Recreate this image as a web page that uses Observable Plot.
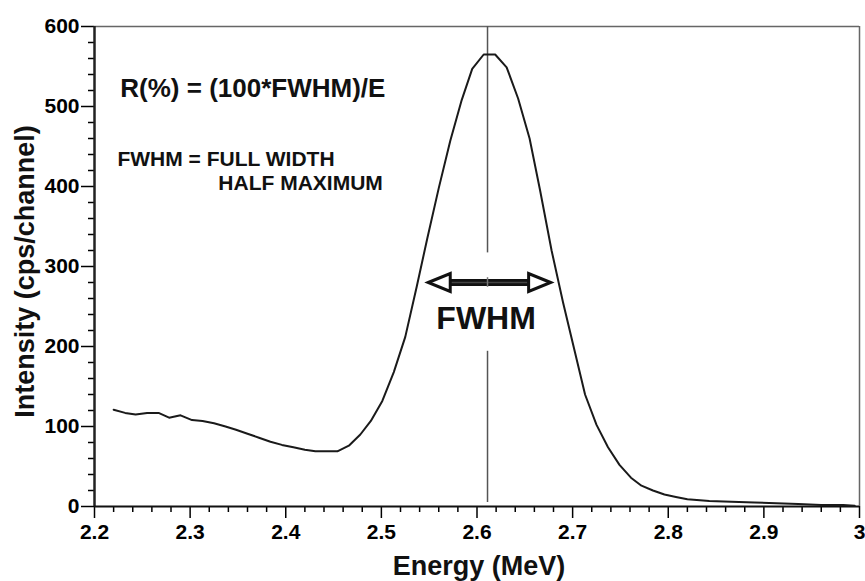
<!DOCTYPE html>
<html>
<head>
<meta charset="utf-8">
<script src="https://cdn.jsdelivr.net/npm/d3@7"></script>
<script src="https://cdn.jsdelivr.net/npm/@observablehq/plot@0.6"></script>
<style>
  html, body { margin: 0; padding: 0; background: #fff; }
  svg { display: block; }
</style>
</head>
<body>
<div id="chart"></div>
<script>
// ---- data ----
const energy = [2.220, 2.232, 2.243, 2.255, 2.267, 2.278, 2.290, 2.302, 2.313, 2.325,
  2.337, 2.348, 2.360, 2.372, 2.384, 2.396, 2.408, 2.420, 2.431, 2.443,
  2.454, 2.466, 2.478, 2.489, 2.501, 2.513, 2.525, 2.537, 2.548, 2.560,
  2.572, 2.584, 2.595, 2.607, 2.619, 2.631, 2.643, 2.655, 2.666, 2.678,
  2.690, 2.702, 2.713, 2.725, 2.737, 2.749, 2.761, 2.772, 2.784, 2.796,
  2.808, 2.820, 2.843, 2.866, 2.890, 2.913, 2.936, 2.960, 2.983, 2.995];
const intensity = [121, 117, 115, 117, 117, 111, 114, 108, 107, 104,
  100, 96, 91, 86, 81, 77, 74, 71, 69, 69,
  69, 76, 90, 107, 132, 168, 212, 275, 335, 398,
  457, 508, 547, 565, 565, 549, 510, 460, 395, 320,
  255, 195, 140, 102, 74, 52, 36, 26, 20, 15,
  12, 9, 7, 6, 5, 4, 3, 2, 2, 1];

const xTicks = [2.2, 2.3, 2.4, 2.5, 2.6, 2.7, 2.8, 2.9, 3.0];
const xTickLabels = ["2.2", "2.3", "2.4", "2.5", "2.6", "2.7", "2.8", "2.9", "3"];
const yTicks = [0, 100, 200, 300, 400, 500, 600];
const yTickLabels = ["0", "100", "200", "300", "400", "500", "600"];

const peakEnergy = 2.611;      // centroid marker line
const fwhmLeft = 2.549;        // half-maximum crossing, left
const fwhmRight = 2.677;       // half-maximum crossing, right
const halfMax = 280;
const peakLineSegments = [{y1: 600, y2: 317}, {y1: 194, y2: 5}];

const xLabel = "Energy (MeV)";
const yLabel = "Intensity (cps/channel)";
const formulaText = "R(%) = (100*FWHM)/E";
const defLine1 = "FWHM = FULL WIDTH";
const defLine2 = "HALF MAXIMUM";
const fwhmText = "FWHM";

// ---- build ----
const spectrum = energy.map((e, i) => ({e, v: intensity[i]}));
const xMinor = d3.range(2.2, 3.0001, 0.02).filter(v => Math.abs(Math.round(v * 10) - v * 10) > 1e-6);
const yMinor = d3.range(0, 600.001, 20).filter(v => v % 100 !== 0);

const FONT = "'Liberation Sans', Arial, Helvetica, sans-serif";

const leftHead = {draw(ctx) { ctx.moveTo(0, 0); ctx.lineTo(22, -9); ctx.lineTo(22, 9); ctx.closePath(); }};
const rightHead = {draw(ctx) { ctx.moveTo(0, 0); ctx.lineTo(-22, -9); ctx.lineTo(-22, 9); ctx.closePath(); }};

const chart = Plot.plot({
  width: 865,
  height: 581,
  marginLeft: 94,
  marginRight: 6,
  marginTop: 26,
  marginBottom: 75,
  style: {fontFamily: FONT, fontWeight: "bold", color: "#000", background: "#fff"},
  x: {domain: [2.2, 3.0]},
  y: {domain: [0, 600]},
  marks: [
    // frame
    Plot.ruleY([600], {stroke: "#666", strokeWidth: 1.5}),
    Plot.ruleX([3.0], {stroke: "#666", strokeWidth: 1.5}),
    // axes ticks
    Plot.axisX({ticks: xMinor, tickSize: 6, tickFormat: () => "", strokeWidth: 1.5, label: null}),
    Plot.axisY({ticks: yMinor, tickSize: 6, tickFormat: () => "", strokeWidth: 1.5, label: null}),
    Plot.axisX({ticks: xTicks, tickSize: 12, tickPadding: 6, strokeWidth: 1.5,
      tickFormat: (d, i) => xTickLabels[i], fontSize: 21, fontWeight: "bold", label: null}),
    Plot.axisY({ticks: yTicks, tickSize: 13, tickPadding: 2, strokeWidth: 1.5,
      tickFormat: (d, i) => yTickLabels[i], fontSize: 21, fontWeight: "bold", label: null}),
    Plot.ruleX([2.2], {stroke: "#222", strokeWidth: 2.5}),
    Plot.ruleY([0], {stroke: "#111", strokeWidth: 2}),
    // peak centroid line
    Plot.ruleX(peakLineSegments, {x: () => peakEnergy, y1: "y1", y2: "y2", stroke: "#555", strokeWidth: 1.5}),
    // spectrum
    Plot.line(spectrum, {x: "e", y: "v", stroke: "#1a1a1a", strokeWidth: 2}),
    // FWHM arrow
    Plot.ruleY([{x1: fwhmLeft, x2: fwhmRight, y: halfMax}], {x1: "x1", x2: "x2", y: "y",
      stroke: "#111", strokeWidth: 7, insetLeft: 21, insetRight: 21}),
    Plot.ruleY([{x1: fwhmLeft, x2: fwhmRight, y: halfMax}], {x1: "x1", x2: "x2", y: "y",
      stroke: "#444", strokeWidth: 1.5, insetLeft: 21, insetRight: 21}),
    Plot.ruleX([{y1: halfMax - 6, y2: halfMax + 6}], {x: () => peakEnergy, y1: "y1", y2: "y2", stroke: "#777", strokeWidth: 1.5}),
    Plot.dot([{x: fwhmLeft, y: halfMax}], {x: "x", y: "y", symbol: leftHead, fill: "#fff", stroke: "#111", strokeWidth: 3}),
    Plot.dot([{x: fwhmRight, y: halfMax}], {x: "x", y: "y", symbol: rightHead, fill: "#fff", stroke: "#111", strokeWidth: 3}),
    // annotations
    Plot.text([formulaText], {x: () => 2.227, y: () => 512, text: d => d, textAnchor: "start", lineAnchor: "bottom",
      fontSize: 26, fontWeight: "bold", fill: "#111"}),
    Plot.text([defLine1], {x: () => 2.224, y: () => 426, text: d => d, textAnchor: "start", lineAnchor: "bottom",
      fontSize: 21, fontWeight: "bold", fill: "#111"}),
    Plot.text([defLine2], {x: () => 2.3295, y: () => 396, text: d => d, textAnchor: "start", lineAnchor: "bottom",
      fontSize: 21, fontWeight: "bold", fill: "#111"}),
    Plot.text([fwhmText], {x: () => 2.6095, y: () => 222, text: d => d, textAnchor: "middle", lineAnchor: "bottom",
      fontSize: 32, fontWeight: "bold", fill: "#111"}),
    // axis titles
    Plot.text([xLabel], {frameAnchor: "bottom", text: d => d, textAnchor: "middle", lineAnchor: "bottom",
      dx: 2, dy: 68, fontSize: 27, fontWeight: "bold", fill: "#111"}),
    Plot.text([yLabel], {frameAnchor: "left", text: d => d, rotate: -90, textAnchor: "middle", lineAnchor: "middle",
      dx: -69, dy: 5, fontSize: 27, fontWeight: "bold", fill: "#111"})
  ]
});

document.getElementById("chart").appendChild(chart);
</script>
</body>
</html>
